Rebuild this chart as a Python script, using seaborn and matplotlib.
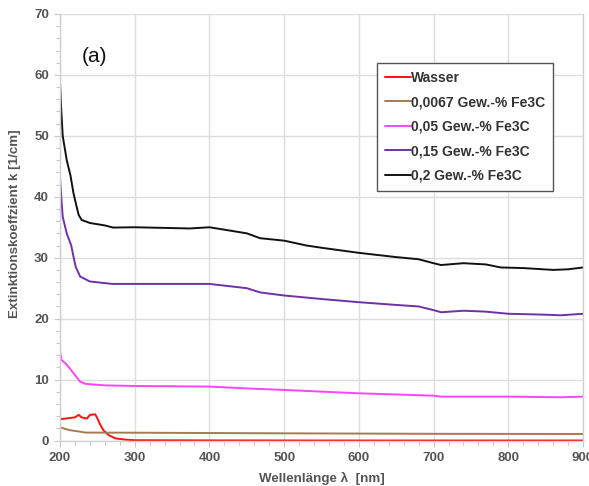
import matplotlib
matplotlib.use("Agg")
import matplotlib.pyplot as plt
import seaborn as sns
import pandas as pd
from matplotlib.ticker import MultipleLocator

# ---- data ----
wl_wasser = [200, 207, 220, 225, 229, 236, 240, 247, 249, 253, 258, 265, 274, 287, 300, 400, 600, 900]
k_wasser = [3.5, 3.6, 3.8, 4.2, 3.8, 3.6, 4.2, 4.3, 3.9, 2.8, 1.7, 0.9, 0.35, 0.15, 0.05, 0.02, 0.0, 0.0]

wl_0067 = [200, 213, 227, 234, 300, 500, 700, 900]
k_0067 = [2.15, 1.7, 1.45, 1.3, 1.28, 1.18, 1.1, 1.07]

wl_005 = [200, 202, 207, 213, 220, 227, 234, 260, 300, 400, 450, 500, 600, 700, 710, 800, 870, 900]
k_005 = [14.6, 13.2, 12.7, 11.85, 10.75, 9.65, 9.3, 9.05, 8.95, 8.85, 8.55, 8.3, 7.75, 7.36, 7.2, 7.2, 7.1, 7.2]

wl_015 = [200, 201.3, 203.6, 209, 215, 218, 221, 227, 240, 270, 300, 400, 450, 468, 500, 552, 600,
          650, 680, 700, 710, 740, 770, 800, 850, 870, 900]
k_015 = [43.0, 40.6, 36.7, 34.0, 32.0, 30.2, 28.5, 26.9, 26.1, 25.7, 25.7, 25.7, 25.0, 24.3, 23.8, 23.2, 22.7,
         22.25, 22.0, 21.4, 21.05, 21.3, 21.15, 20.8, 20.65, 20.55, 20.8]

wl_02 = [200, 201.3, 203.6, 209, 214, 218, 222, 225, 229, 240, 260, 271, 300, 374, 400, 450, 468, 500,
         530, 552, 600, 650, 680, 700, 710, 740, 770, 790, 820, 860, 880, 900]
k_02 = [58.7, 55.0, 50.0, 46.0, 43.5, 40.6, 38.5, 37.0, 36.2, 35.7, 35.3, 34.95, 35.0, 34.8, 35.0, 34.0, 33.2, 32.8,
        32.0, 31.6, 30.8, 30.1, 29.75, 29.1, 28.8, 29.1, 28.9, 28.4, 28.3, 28.0, 28.1, 28.4]

labels = ["Wasser", "0,0067 Gew.-% Fe3C", "0,05 Gew.-% Fe3C", "0,15 Gew.-% Fe3C", "0,2 Gew.-% Fe3C"]
colors = ["#ff1010", "#a87a50", "#ff44ff", "#7030a8", "#111111"]
series = [(wl_wasser, k_wasser), (wl_0067, k_0067), (wl_005, k_005), (wl_015, k_015), (wl_02, k_02)]

x_ticks = [200, 300, 400, 500, 600, 700, 800, 900]
y_ticks = [0, 10, 20, 30, 40, 50, 60, 70]

# ---- plot ----
sns.set_theme(style="white")
plt.rcParams['font.family'] = ['Liberation Sans', 'DejaVu Sans']

fig = plt.figure(figsize=(5.89, 4.86), dpi=100)
ax = fig.add_axes([0.1019, 0.0936, 0.8879, 0.8776])

for (wl, k), lab, col in zip(series, labels, colors):
    df = pd.DataFrame({"wl": wl, "k": k})
    sns.lineplot(data=df, x="wl", y="k", ax=ax, color=col, label=lab, linewidth=1.4, sort=False)

ax.set_xlim(200, 900)
ax.set_ylim(0, 70)
ax.set_xticks(x_ticks)
ax.set_yticks(y_ticks)
ax.xaxis.set_minor_locator(MultipleLocator(20))
ax.yaxis.set_minor_locator(MultipleLocator(2))
ax.grid(True, which="major", color="#dddddd", linewidth=1.0)
ax.set_axisbelow(True)

ax.spines["top"].set_visible(False)
for side in ["left", "bottom", "right"]:
    ax.spines[side].set_color("#d0d0d0")
    ax.spines[side].set_linewidth(1.0)

ax.tick_params(axis="both", which="both", direction="out", color="#c8c8c8", width=0.8,
               left=True, bottom=True)
ax.tick_params(axis="both", which="major", length=4, labelsize=9.5, labelcolor="#555555", pad=4)
ax.tick_params(axis="both", which="minor", length=3)
for lbl in ax.get_xticklabels() + ax.get_yticklabels():
    lbl.set_fontweight("bold")

ax.set_xlabel("Wellenlänge λ  [nm]", fontsize=9.6, fontweight="bold", color="#555555", labelpad=6)
ax.set_ylabel("Extinktionskoeffzient k [1/cm]", fontsize=9.6, fontweight="bold", color="#555555")
ax.yaxis.set_label_coords(-0.0746, 0.509)

ax.text(0.041, 0.9015, "(a)", transform=ax.transAxes, fontsize=15, color="#111111", va="center")

leg = ax.legend(loc="upper left", bbox_to_anchor=(0.606, 0.885), frameon=True, fancybox=False,
                edgecolor="#555555", framealpha=1.0, fontsize=10, handlelength=1.87,
                handletextpad=0.05, labelspacing=0.76, borderpad=0.55, borderaxespad=0)
leg.get_frame().set_linewidth(1.0)
for t in leg.get_texts():
    t.set_fontweight("bold")
    t.set_color("#333333")

fig.savefig("out.png", dpi=100)
